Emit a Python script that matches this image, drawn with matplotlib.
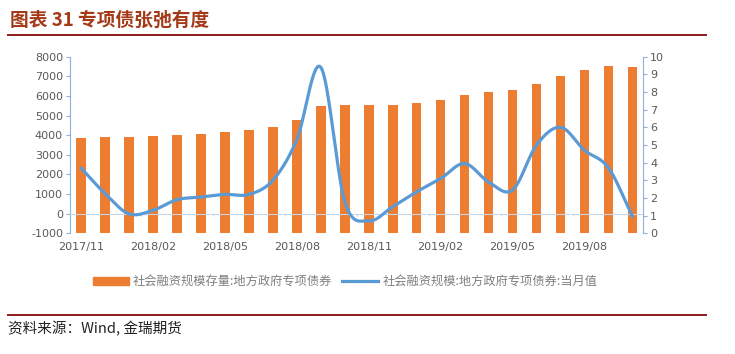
import numpy as np
import matplotlib
matplotlib.use("Agg")
import matplotlib.pyplot as plt

plt.rcParams['font.family'] = ['Noto Sans CJK SC', 'DejaVu Sans']
plt.rcParams['axes.unicode_minus'] = False

# 月份 2017/11 .. 2019/10
months = ["2017/11", "2017/12", "2018/01", "2018/02", "2018/03", "2018/04",
          "2018/05", "2018/06", "2018/07", "2018/08", "2018/09", "2018/10",
          "2018/11", "2018/12", "2019/01", "2019/02", "2019/03", "2019/04",
          "2019/05", "2019/06", "2019/07", "2019/08", "2019/09", "2019/10"]
# 存量（左轴）
stock = [3870, 3920, 3920, 3950, 4000, 4080, 4180, 4260, 4430, 4790, 5480, 5540,
         5520, 5540, 5650, 5810, 6050, 6190, 6310, 6630, 7030, 7300, 7500, 7490]
# 当月值（右轴）
monthly = [3.7, 2.25, 1.1, 1.3, 1.9, 2.05, 2.2, 2.2, 3.0, 5.3, 9.4, 1.8,
           0.7, 1.5, 2.35, 3.1, 3.95, 2.9, 2.45, 5.0, 6.0, 4.7, 3.7, 0.95]

ORANGE = "#ED7D31"
BLUE = "#5B9BD5"
SPINE = "#8DB3DD"
TXT = "#595959"
DARKRED = "#8B1A1A"
TITLE = "#A33A17"
LEFT_MIN = -1000


def smooth(x, y, n=20):
    # Catmull-Rom, похоже на сглаженную линию Excel
    x = np.asarray(x, float)
    y = np.asarray(y, float)
    px = np.concatenate([[2 * x[0] - x[1]], x, [2 * x[-1] - x[-2]]])
    py = np.concatenate([[2 * y[0] - y[1]], y, [2 * y[-1] - y[-2]]])
    xs, ys = [], []
    t = np.linspace(0, 1, n, endpoint=False)
    for i in range(1, len(px) - 2):
        f = lambda a0, a1, a2, a3: 0.5 * (2 * a1 + (-a0 + a2) * t
                                          + (2 * a0 - 5 * a1 + 4 * a2 - a3) * t ** 2
                                          + (-a0 + 3 * a1 - 3 * a2 + a3) * t ** 3)
        xs.append(f(px[i - 1], px[i], px[i + 1], px[i + 2]))
        ys.append(f(py[i - 1], py[i], py[i + 1], py[i + 2]))
    xs.append([x[-1]])
    ys.append([y[-1]])
    return np.concatenate(xs), np.concatenate(ys)


fig = plt.figure(figsize=(7.35, 3.54), dpi=100)
ax = fig.add_axes([0.0952, 0.341, 0.780, 0.499])
ax2 = ax.twinx()

idx = np.arange(len(months))
ax.bar(idx, np.array(stock) - LEFT_MIN, bottom=LEFT_MIN, width=0.4,
       color=ORANGE, zorder=2)
ax.axhline(0, color="#C8D5E5", lw=0.8, zorder=3)
ax.vlines(np.arange(2.5, len(months), 3), -130, 0, color="#C8D5E5", lw=0.8, zorder=3)

sx, sy = smooth(idx, monthly)
ax2.plot(sx, sy, color=BLUE, lw=2.3, solid_capstyle="round", zorder=4)

ax.set_xlim(-0.46, len(months) - 0.55)
ax.set_ylim(-1000, 8000)
ax.set_yticks(np.arange(-1000, 8001, 1000))
ax2.set_ylim(0, 10)
ax2.set_yticks(np.arange(0, 11, 1))
ax.set_xticks(idx[::3])
ax.set_xticklabels(months[::3])

for a in (ax, ax2):
    for s in a.spines.values():
        s.set_visible(False)
ax.spines["left"].set_visible(True)
ax.spines["left"].set_color(SPINE)
ax2.spines["right"].set_visible(True)
ax2.spines["right"].set_color(SPINE)

ax.tick_params(axis="y", colors=SPINE, labelcolor=TXT, labelsize=8, length=3, pad=2)
ax2.tick_params(axis="y", colors=SPINE, labelcolor=TXT, labelsize=8, length=3, pad=2)
ax.tick_params(axis="x", length=0, labelcolor=TXT, labelsize=8, pad=6)
for lab in ax.get_xticklabels() + ax.get_yticklabels() + ax2.get_yticklabels():
    lab.set_family(["DejaVu Sans"])

ax.set_zorder(1)
ax2.set_zorder(2)
ax.patch.set_visible(False)

# заголовок
fig.text(0.014, 0.944, "图表 31 专项债张弛有度", fontsize=13.5, fontweight="bold",
         color=TITLE, ha="left", va="center")
fig.add_artist(plt.Line2D([0.011, 0.96], [0.900, 0.900], color=DARKRED, lw=1.4))

# легенда
lx = 93 / 735
ly = 1 - 281 / 354
fig.add_artist(plt.Rectangle((lx, ly - 0.012), 36 / 735, 0.024, color=ORANGE))
fig.text(133 / 735, ly, "社会融资规模存量:地方政府专项债券", fontsize=8.8,
         color="#7F7F7F", ha="left", va="center")
fig.add_artist(plt.Line2D([342 / 735, 378 / 735], [ly, ly], color=BLUE, lw=2.3))
fig.text(383 / 735, ly, "社会融资规模:地方政府专项债券:当月值", fontsize=8.8,
         color="#7F7F7F", ha="left", va="center")

# источник
fig.add_artist(plt.Line2D([0.011, 0.96], [1 - 315 / 354, 1 - 315 / 354],
                          color=DARKRED, lw=1.4))
fig.text(0.011, 1 - 329 / 354, "资料来源：Wind, 金瑞期货", fontsize=10.5,
         color="#222222", ha="left", va="center")

fig.savefig("out.png", dpi=100)
